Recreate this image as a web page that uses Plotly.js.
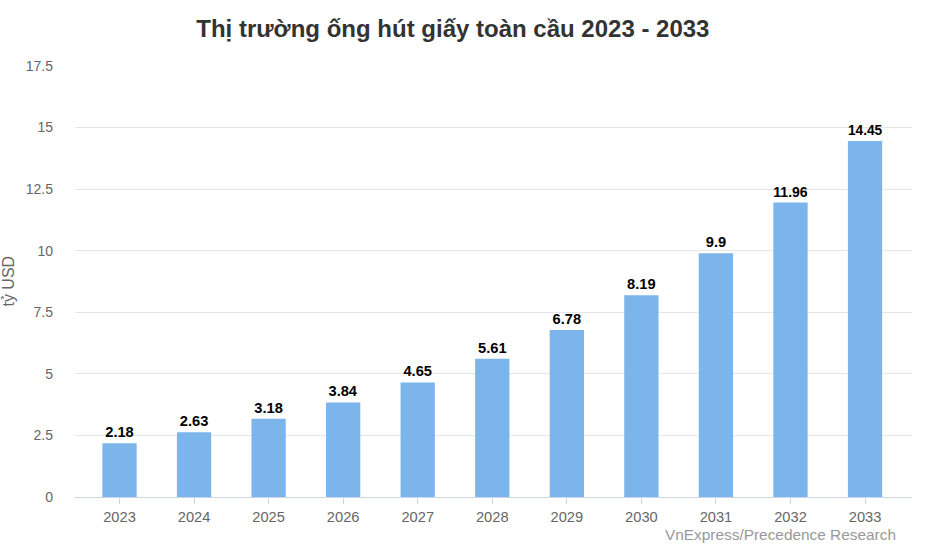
<!DOCTYPE html>
<html>
<head>
<meta charset="utf-8">
<script src="https://cdn.plot.ly/plotly-3.0.1.min.js"></script>
<style>html,body{margin:0;padding:0;background:#fff;}#chart{width:928px;height:545px;}</style>
</head>
<body>
<div id="chart"></div>
<script>
const years = ['2023','2024','2025','2026','2027','2028','2029','2030','2031','2032','2033'];
const values = [2.18, 2.63, 3.18, 3.84, 4.65, 5.61, 6.78, 8.19, 9.9, 11.96, 14.45];
const yTicks = [0, 2.5, 5, 7.5, 10, 12.5, 15, 17.5];
const yTickLabels = ['0', '2.5', '5', '7.5', '10', '12.5', '15', '17.5'];

const trace = {
  type: 'bar',
  x: years,
  y: values,
  marker: {color: '#7cb5ec'},
  text: values.map(v => String(v)),
  textposition: 'outside',
  cliponaxis: false,
  textfont: {family: 'Arial, Liberation Sans, sans-serif', size: 14.67, color: '#000', weight: 'bold'},
  hoverinfo: 'x+y'
};

const layout = {
  width: 928, height: 545,
  margin: {l: 75, r: 16, t: 66, b: 48},
  paper_bgcolor: '#fff', plot_bgcolor: '#fff',
  bargap: 0.54,
  showlegend: false,
  font: {family: 'Arial, Liberation Sans, sans-serif', color: '#666'},
  title: {
    text: '<b>Thị trường ống hút giấy toàn cầu 2023 - 2033</b>',
    font: {family: 'Arial, Liberation Sans, sans-serif', size: 24, color: '#333'},
    x: 0.488, xanchor: 'center', y: 0.948, yanchor: 'middle'
  },
  xaxis: {
    type: 'category',
    range: [-0.597, 10.63],
    showgrid: false,
    showline: true, linecolor: '#ccd6eb', linewidth: 1,
    ticks: 'outside', ticklen: 6, tickcolor: '#ccd6eb',
    tickfont: {size: 14.67, color: '#666'},
    fixedrange: true
  },
  yaxis: {
    range: [0, 17.5],
    tickvals: yTicks, ticktext: yTickLabels,
    showgrid: true, gridcolor: '#e6e6e6', gridwidth: 1,
    zeroline: false, showline: false,
    tickfont: {size: 14, color: '#666'},
    ticklabelstandoff: 21,
    fixedrange: true
  },
  annotations: [
    {text: 'tỷ USD', xref: 'paper', yref: 'paper', x: -0.08, y: 0.5,
     xanchor: 'center', yanchor: 'middle', textangle: -90, showarrow: false,
     font: {size: 16, color: '#666'}},
    {text: 'VnExpress/Precedence Research', xref: 'paper', yref: 'paper', x: 0.983, y: -0.088,
     xanchor: 'right', yanchor: 'middle', showarrow: false,
     font: {size: 15.4, color: '#999'}}
  ]
};

Plotly.newPlot('chart', [trace], layout, {displayModeBar: false});
</script>
</body>
</html>
